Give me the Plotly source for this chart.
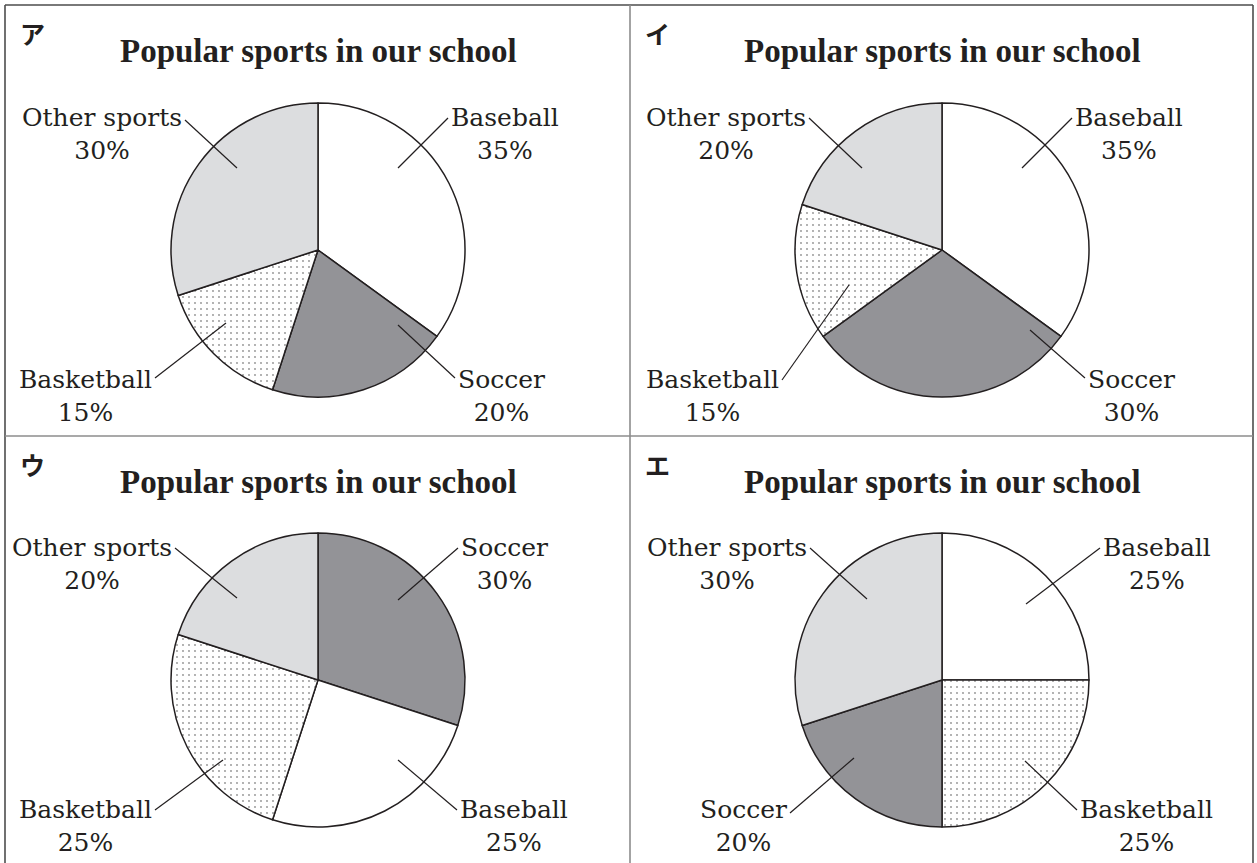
import plotly.graph_objects as go

# ---------------- data ----------------
panel_marks = ["ア", "イ", "ウ", "エ"]
title_text = "Popular sports in our school"

categories_a = ["Baseball", "Soccer", "Basketball", "Other sports"]
values_a = [35, 20, 15, 30]
categories_i = ["Baseball", "Soccer", "Basketball", "Other sports"]
values_i = [35, 30, 15, 20]
categories_u = ["Soccer", "Baseball", "Basketball", "Other sports"]
values_u = [30, 25, 25, 20]
categories_e = ["Baseball", "Basketball", "Soccer", "Other sports"]
values_e = [25, 25, 20, 30]

panels = [
    (categories_a, values_a),
    (categories_i, values_i),
    (categories_u, values_u),
    (categories_e, values_e),
]

# ---------------- style / layout ----------------
W, H = 1257, 863
R = 147
centers = [(318, 250), (942, 250), (318, 680), (942, 680)]
panel_origin = [(5, 5), (630, 5), (5, 436), (630, 436)]

fill = {"Baseball": "#ffffff", "Soccer": "#939397",
        "Basketball": "#ffffff", "Other sports": "#dcdddf"}
pattern_shape = {"Baseball": "", "Soccer": "", "Basketball": ".", "Other sports": ""}
edge = "#231f20"
text_color = "#231f20"
label_font = "DejaVu Serif"
title_font = "Liberation Serif"

# leader lines per panel, in slice order: (outer end, inner end) offsets from pie centre
leaders = [
    [((130, -132), (80, -82)), ((137, 128), (80, 75)), ((-163, 128), (-92, 73)), ((-133, -130), (-81, -82))],
    [((130, -132), (80, -82)), ((143, 128), (88, 80)), ((-160, 130), (-93, 35)), ((-133, -132), (-80, -82))],
    [((140, -132), (80, -80)), ((139, 130), (80, 80)), ((-163, 130), (-95, 80)), ((-143, -132), (-81, -82))],
    [((158, -132), (84, -76)), ((135, 130), (83, 81)), ((-152, 133), (-88, 78)), ((-132, -132), (-75, -81))],
]


def px(x):
    return x / W


def py(y):
    return 1 - y / H


fig = go.Figure()
annotations = []
shapes = []

for k, (cats, vals) in enumerate(panels):
    cx, cy = centers[k]
    fig.add_trace(go.Pie(
        labels=cats, values=vals, sort=False, direction="clockwise", rotation=0,
        textinfo="none", hoverinfo="label+percent", showlegend=False,
        marker=dict(
            colors=[fill[c] for c in cats],
            line=dict(color=edge, width=1.5),
            pattern=dict(shape=[pattern_shape[c] for c in cats], fgcolor="#1f1f1f",
                         size=6, solidity=0.07, fillmode="overlay"),
        ),
        domain=dict(x=[px(cx - R), px(cx + R)], y=[py(cy + R), py(cy - R)]),
    ))

    ox, oy = panel_origin[k]
    # panel mark
    annotations.append(dict(
        x=px(ox + 27), y=py(oy + 28), xref="paper", yref="paper",
        text=f"<b>{panel_marks[k]}</b>", showarrow=False, xanchor="center", yanchor="middle",
        font=dict(family="Noto Sans CJK JP", size=25, color=text_color)))
    # title
    annotations.append(dict(
        x=px(cx), y=py(oy + 46), xref="paper", yref="paper",
        text=f"<b>{title_text}</b>", showarrow=False, xanchor="center", yanchor="middle",
        font=dict(family=title_font, size=33, color=text_color)))

    for j, (cat, val) in enumerate(zip(cats, vals)):
        (oxo, oyo), (ixo, iyo) = leaders[k][j]
        shapes.append(dict(type="line", xref="paper", yref="paper",
                           x0=px(cx + oxo), y0=py(cy + oyo), x1=px(cx + ixo), y1=py(cy + iyo),
                           line=dict(color=edge, width=1.2)))
        top = oyo < 0
        right = oxo > 0
        line1_y = cy + (-132 if top else 130)
        annotations.append(dict(
            x=px(cx + oxo + (2 if right else -2)), y=py(line1_y + 16),
            xref="paper", yref="paper", text=f"{cat}<br>{val}%", showarrow=False,
            xanchor="left" if right else "right", yanchor="middle", align="center",
            borderpad=0,
            font=dict(family=label_font, size=25, color=text_color)))

# panel borders
outer_c = "#4d4d4d"
inner_c = "#8c8c8c"
for (x0, y0, x1, y1, c) in [
    (5, 5, 1253, 5, outer_c), (5, 5, 5, 863, outer_c), (1253, 5, 1253, 863, outer_c),
    (630, 5, 630, 863, inner_c), (5, 436, 1253, 436, inner_c),
]:
    shapes.append(dict(type="line", xref="paper", yref="paper",
                       x0=px(x0), y0=py(y0), x1=px(x1), y1=py(y1),
                       line=dict(color=c, width=1.6)))

fig.update_layout(
    width=W, height=H, margin=dict(l=0, r=0, t=0, b=0),
    paper_bgcolor="white", plot_bgcolor="white",
    annotations=annotations, shapes=shapes, showlegend=False,
)

fig.write_html("out.html", config={"displayModeBar": False},
               post_script="document.body.style.margin='0';")
